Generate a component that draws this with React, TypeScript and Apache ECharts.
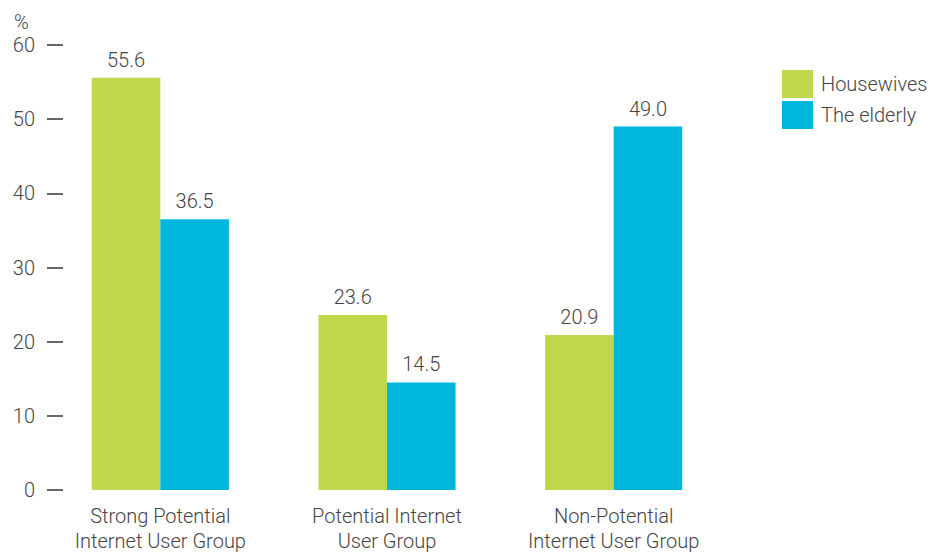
import React, { useEffect, useRef } from "react";
import * as echarts from "echarts";

const categories = ["Strong Potential\nInternet User Group", "Potential Internet\nUser Group", "Non-Potential\nInternet User Group"];
const housewives = [55.6, 23.6, 20.9];
const elderly = [36.5, 14.5, 49.0];
const seriesNames = ["Housewives", "The elderly"];
const colors = ["#bfd74a", "#00b6dd"];
const unitLabel = "%";

const FONT = "Roboto, 'DejaVu Sans', sans-serif";
const TXT = "#444444";
const FS = 20;

export default function App() {
  const ref = useRef<HTMLDivElement>(null);
  useEffect(() => {
    document.body.style.margin = "0";
    const chart = echarts.init(ref.current!, null, { renderer: "svg" });
    const label = {
      show: true,
      position: "top",
      distance: 8,
      color: TXT,
      fontSize: FS,
      fontFamily: FONT,
      fontWeight: 300,
      formatter: (p: any) => p.value.toFixed(1),
    };
    chart.setOption({
      animation: false,
      textStyle: { fontFamily: FONT },
      grid: { left: 47, right: 205, top: 45, bottom: 59, containLabel: false },
      graphic: [
        {
          type: "text",
          left: 14,
          top: 12,
          style: { text: unitLabel, fill: TXT, fontSize: FS, fontFamily: FONT, fontWeight: 300 },
        },
      ],
      legend: {
        orient: "vertical",
        left: 782,
        top: 70,
        padding: 0,
        itemWidth: 31,
        itemHeight: 28,
        itemGap: 3,
        icon: "rect",
        textStyle: { color: TXT, fontSize: FS, fontFamily: FONT, fontWeight: 300, padding: [0, 0, 0, 3] },
        data: seriesNames,
      },
      xAxis: {
        type: "category",
        data: categories,
        axisLine: { show: false },
        axisTick: { show: false },
        axisLabel: {
          color: TXT,
          fontSize: FS,
          fontFamily: FONT,
          fontWeight: 300,
          lineHeight: 25,
          margin: 13,
          interval: 0,
        },
      },
      yAxis: {
        type: "value",
        min: 0,
        max: 60,
        interval: 10,
        splitLine: { show: false },
        axisLine: { show: false },
        axisTick: { show: true, inside: true, length: 16, lineStyle: { color: "#333", width: 1.5 } },
        axisLabel: { color: TXT, fontSize: FS, fontFamily: FONT, fontWeight: 300, margin: 12 },
      },
      series: [
        {
          name: seriesNames[0],
          type: "bar",
          data: housewives,
          itemStyle: { color: colors[0] },
          barGap: "0%",
          barCategoryGap: "39.5%",
          label,
        },
        {
          name: seriesNames[1],
          type: "bar",
          data: elderly,
          itemStyle: { color: colors[1] },
          barGap: "0%",
          barCategoryGap: "39.5%",
          label,
        },
      ],
    });
    return () => chart.dispose();
  }, []);
  return <div ref={ref} style={{ width: 932, height: 553 }} />;
}
